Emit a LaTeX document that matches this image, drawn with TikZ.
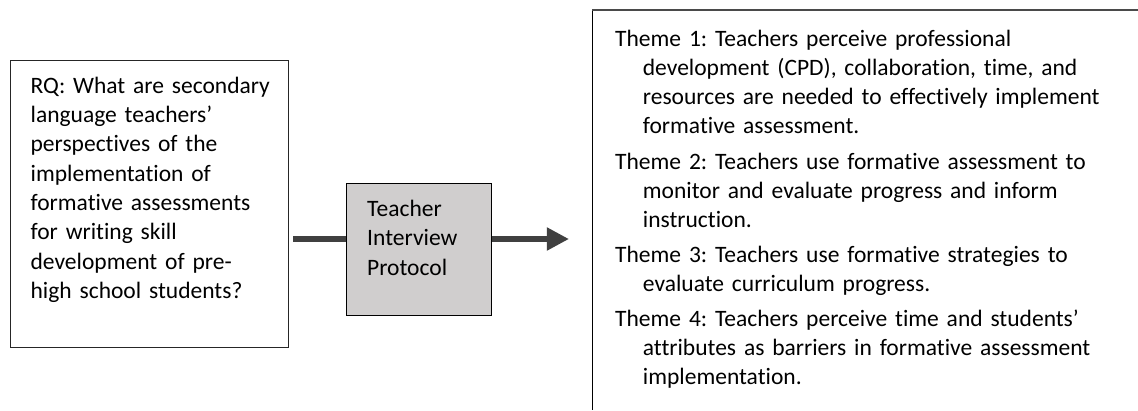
\documentclass[tikz,border=0pt]{standalone}
\usepackage{fontspec}
\setmainfont{Carlito}[Ligatures=NoCommon]
\usetikzlibrary{arrows.meta}
\definecolor{arrowgray}{HTML}{404040}
\definecolor{boxgray}{HTML}{D0CECE}
\definecolor{topgray}{HTML}{4A4A4A}
\frenchspacing
\begin{document}
\begin{tikzpicture}[x=1bp,y=-1bp,
  txt/.style={font=\fontsize{23.6}{29.4}\selectfont, text=black},
  whitebox/.style={draw=black!85, line width=1.3pt, fill=white, align=left, inner ysep=0pt, anchor=north west},
  openbox/.style={draw=none, align=left, inner ysep=0pt, anchor=north west},
  greybox/.style={draw=black, line width=1pt, fill=boxgray, align=left, inner ysep=0pt, anchor=north west},
  conn/.style={draw=arrowgray, line width=7pt},
  connarrow/.style={conn, -{Triangle[length=22.3pt,width=22pt]}}]
\useasboundingbox (0,0) rectangle (1138,410);
\fill[white] (0,0) rectangle (1138,410);
\coordinate (pageright) at (1138,0);
\node[whitebox, txt, inner xsep=20bp, text width=238bp] (rq) at (10,60)
 {\rule{0pt}{32.7bp}\mbox{RQ: What are secondary}\\
  \mbox{language teachers’}\\
  \mbox{perspectives of the}\\
  \mbox{implementation of}\\
  \mbox{formative assessments}\\
  \mbox{for writing skill}\\
  \mbox{development of pre-}\\
  \mbox{high school students?}\rule[-49bp]{0pt}{49bp}};
\node[greybox, txt, inner xsep=21bp, text width=103bp] (tip) at (345.7,182.7)
 {\rule{0pt}{33.3bp}Teacher\\
  Interview\\
  Protocol\rule[-40bp]{0pt}{40bp}};
\node[openbox, txt, font=\fontsize{23.6}{29.1}\selectfont, inner xsep=22.3bp, text width=498bp] (themes) at (592.7,10)
 {\rule{0pt}{36.7bp}Theme 1: Teachers perceive professional\\
  \hspace*{27.7bp}\mbox{development (CPD), collaboration, time, and}\\
  \hspace*{27.7bp}\mbox{resources are needed to effectively implement}\\
  \hspace*{27.7bp}formative assessment.\\[6.3pt]
  Theme 2: Teachers use formative assessment to\\
  \hspace*{27.7bp}monitor and evaluate progress and inform\\
  \hspace*{27.7bp}instruction.\\[6.3pt]
  Theme 3: Teachers use formative strategies to\\
  \hspace*{27.7bp}evaluate curriculum progress.\\[6.3pt]
  Theme 4: Teachers perceive time and students’\\
  \hspace*{27.7bp}\mbox{attributes as barriers in formative assessment}\\
  \hspace*{27.7bp}implementation.\rule[-25bp]{0pt}{25bp}};
% the theme box runs on past the right and bottom edges of the page
\draw[black, line width=1.3pt] (themes.north west) -- (themes.south west);
\draw[topgray, line width=2pt] ([xshift=-0.65pt]themes.north west) -- (themes.north west -| pageright);
\coordinate (arrowtip) at (569,239);
\draw[conn, shorten <=3.7bp] (rq.east |- arrowtip) -- (tip.west |- arrowtip);
\draw[connarrow] (tip.east |- arrowtip) -- (arrowtip);
\end{tikzpicture}
\end{document}
